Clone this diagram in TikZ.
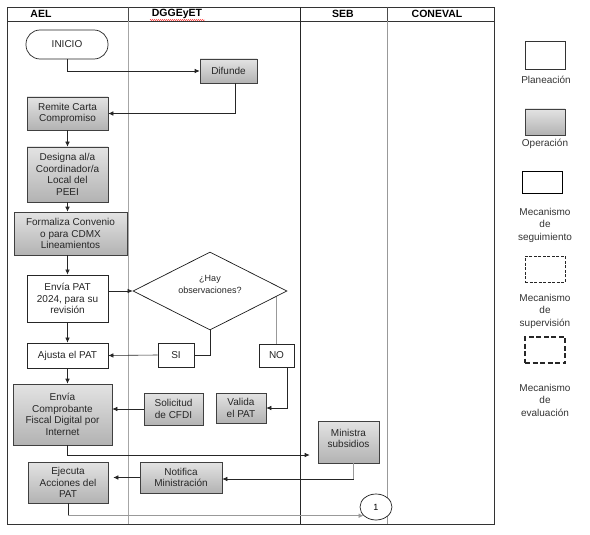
\documentclass[tikz,border=0pt]{standalone}
\usepackage{fontspec}
\setmainfont{Liberation Sans}
\usetikzlibrary{arrows.meta,shapes.geometric,decorations.pathmorphing,calc}
\begin{document}
\begin{tikzpicture}[x=1pt,y=-1pt,
  txt/.style={font=\fontsize{10}{11.7}\selectfont,text=black!85,align=center,inner sep=1pt},
  opbox/.style={txt,draw=black!75,line width=0.6pt,top color=black!11,bottom color=black!30},
  planbox/.style={txt,draw=black!85,line width=0.7pt,fill=white},
  hdr/.style={font=\fontsize{10.5}{12}\selectfont\bfseries,inner sep=0pt},
  conn/.style={draw=black!85,line width=0.6pt},
  gconn/.style={draw=black!40,line width=0.6pt},
  arr/.style={-{Latex[length=5pt,width=4.5pt]}},
  legtxt/.style={font=\fontsize{10}{12.5}\selectfont,text=black!80,align=center,inner sep=0pt}
]
\useasboundingbox (0,0) rectangle (590,535);
% frame and lanes
\draw[black!80,line width=0.8pt] (7,7) rectangle (494,524);
\draw[black!80,line width=0.6pt] (7,21) -- (494,21);
\draw[black!70,line width=0.6pt] (128,7) -- (128,21);
\draw[black!35,line width=0.6pt] (128,21) -- (128,524);
\draw[black!85,line width=0.6pt] (300,7) -- (300,524);
\draw[black!70,line width=0.6pt] (387,7) -- (387,21);
\draw[black!40,line width=0.6pt] (387,21) -- (387,524);
\node[hdr] (hael) at (41,14) {AEL};
\node[hdr] (hdgg) at (177,14) {DGGEyET};
\draw[red!80,line width=0.4pt,decorate,decoration={snake,amplitude=0.6pt,segment length=2pt}] (150,20) -- (205,20);
\node[hdr] (hseb) at (343,14) {SEB};
\node[hdr] (hcon) at (437,14) {CONEVAL};
% nodes
\node[planbox,rounded corners=14pt,minimum width=82pt,minimum height=29pt] (inicio) at (67,44.5) {INICIO};
\node[opbox,minimum width=57pt,minimum height=24pt] (difunde) at (228.5,71) {Difunde};
\node[opbox,minimum width=81pt,minimum height=33pt] (remite) at (67.5,113.5) {Remite Carta\\Compromiso};
\node[opbox,minimum width=81pt,minimum height=55pt] (designa) at (67.5,174.5) {Designa al/a\\Coordinador/a\\Local del\\PEEI};
\node[opbox,minimum width=113pt,minimum height=43pt] (formaliza) at (70.5,233.5) {Formaliza Convenio\\o para CDMX\\Lineamientos};
\node[planbox,line width=0.8pt,minimum width=81pt,minimum height=47pt] (envia) at (67.5,298.5) {Envía PAT\\2024, para su\\revisión};
\node[diamond,draw=black!90,line width=0.7pt,fill=white,minimum width=154pt,minimum height=78pt,inner sep=0pt,
  font=\fontsize{9}{12.5}\selectfont,text=black!85] (dia) at (210,291)
  {\raisebox{4pt}[0pt][0pt]{\begin{tabular}{@{}c@{}}¿Hay\\observaciones?\end{tabular}}};
\node[planbox,minimum width=36pt,minimum height=24pt] (si) at (176,355) {SI};
\node[planbox,minimum width=35pt,minimum height=23pt] (no) at (276.5,355.5) {NO};
\node[planbox,minimum width=81pt,minimum height=25pt] (ajusta) at (67.5,355.5) {Ajusta el PAT};
\node[opbox,minimum width=50pt,minimum height=30pt] (valida) at (241,408) {Valida\\el PAT};
\node[opbox,minimum width=59pt,minimum height=32pt] (solicitud) at (173.5,409) {Solicitud\\de CFDI};
\node[opbox,minimum width=99pt,minimum height=61pt] (envcomp) at (62.5,414.5) {Envía\\Comprobante\\Fiscal Digital por\\Internet};
\node[opbox,minimum width=61pt,minimum height=42pt,text depth=7pt] (ministra) at (348.5,442) {Ministra\\subsidios};
\node[opbox,minimum width=82pt,minimum height=31pt] (notifica) at (181,477.5) {Notifica\\Ministración};
\node[opbox,minimum width=80pt,minimum height=41pt] (ejecuta) at (68,482.5) {Ejecuta\\Acciones del\\PAT};
\node[ellipse,draw=black!90,line width=0.7pt,fill=white,minimum width=32pt,minimum height=26pt,inner sep=0pt,
  font=\fontsize{9}{11}\selectfont] (c1) at (376,507) {1};
% connectors
\draw[conn,arr] (inicio.south) |- (difunde.west);
\draw[conn,arr] ([xshift=6.5pt]difunde.south) |- (remite.east);
\draw[conn,arr] (remite.south) -- (designa.north);
\draw[conn,arr] (designa.south) -- (designa.south |- formaliza.north);
\draw[conn,arr] (envia.north |- formaliza.south) -- (envia.north);
\draw[conn,arr] (dia.west -| envia.east) -- (dia.west);
\draw[conn,arr] (envia.south) -- (ajusta.north);
\draw[conn] (dia.south) |- (si.east);
\draw[conn,arr] (si.west) -- (ajusta.east);
\coordinate (dp) at ($(dia.east)!0.14!(dia.south)$);
\draw[gconn] (no.north) -- (no.north |- dp);
\draw[conn,arr] ([xshift=-7pt]no.south east) |- (valida.east);
\draw[conn,arr] (solicitud.west) -- (solicitud.west -| envcomp.east);
\draw[conn,arr] (ajusta.south) -- (ajusta.south |- envcomp.north);
\draw[conn,arr,shorten >=8pt] ([xshift=5pt]envcomp.south) |- ([yshift=-13pt]ministra.west);
\coordinate (m1) at ([xshift=5pt]ministra.south |- notifica.east);
\draw[gconn] ([xshift=5pt]ministra.south) -- ([yshift=-1.5pt]m1);
\draw[conn,arr] ([yshift=-1.5pt]m1) -- ([yshift=-1.5pt]notifica.east);
\draw[conn,arr,shorten >=5pt] (notifica.west) -- (notifica.west -| ejecuta.east);
\coordinate (e1) at (ejecuta.south |- c1.215);
\draw[conn] (ejecuta.south) -- (e1);
\draw[gconn,arr] (e1) -- (c1.215);
% legend
\node[draw=black!80,line width=0.6pt,fill=white,minimum width=40pt,minimum height=28pt,inner sep=0pt] (lplan) at (545,55) {};
\node[legtxt] (lplant) at (546,80) {Planeación};
\node[draw=black!75,line width=0.6pt,top color=black!11,bottom color=black!30,minimum width=40pt,minimum height=26pt,inner sep=0pt] (lop) at (545,122) {};
\node[legtxt] (lopt) at (545,144) {Operación};
\node[draw=black,line width=1.6pt,fill=white,minimum width=40pt,minimum height=22pt,inner sep=0pt] (lseg) at (542.5,182.5) {};
\node[legtxt] (lsegt) at (545,225) {Mecanismo\\de\\seguimiento};
\node[draw=black!85,line width=0.6pt,dash pattern=on 3pt off 1.5pt,minimum width=40pt,minimum height=26pt,inner sep=0pt] (lsup) at (545,269) {};
\node[legtxt] (lsupt) at (545,311) {Mecanismo\\de\\supervisión};
\node[draw=black!85,line width=1.1pt,dash pattern=on 5pt off 2.5pt,minimum width=40pt,minimum height=26pt,inner sep=0pt] (leva) at (545,350) {};
\node[legtxt] (levat) at (545,400) {Mecanismo\\de\\evaluación};
\end{tikzpicture}
\end{document}
